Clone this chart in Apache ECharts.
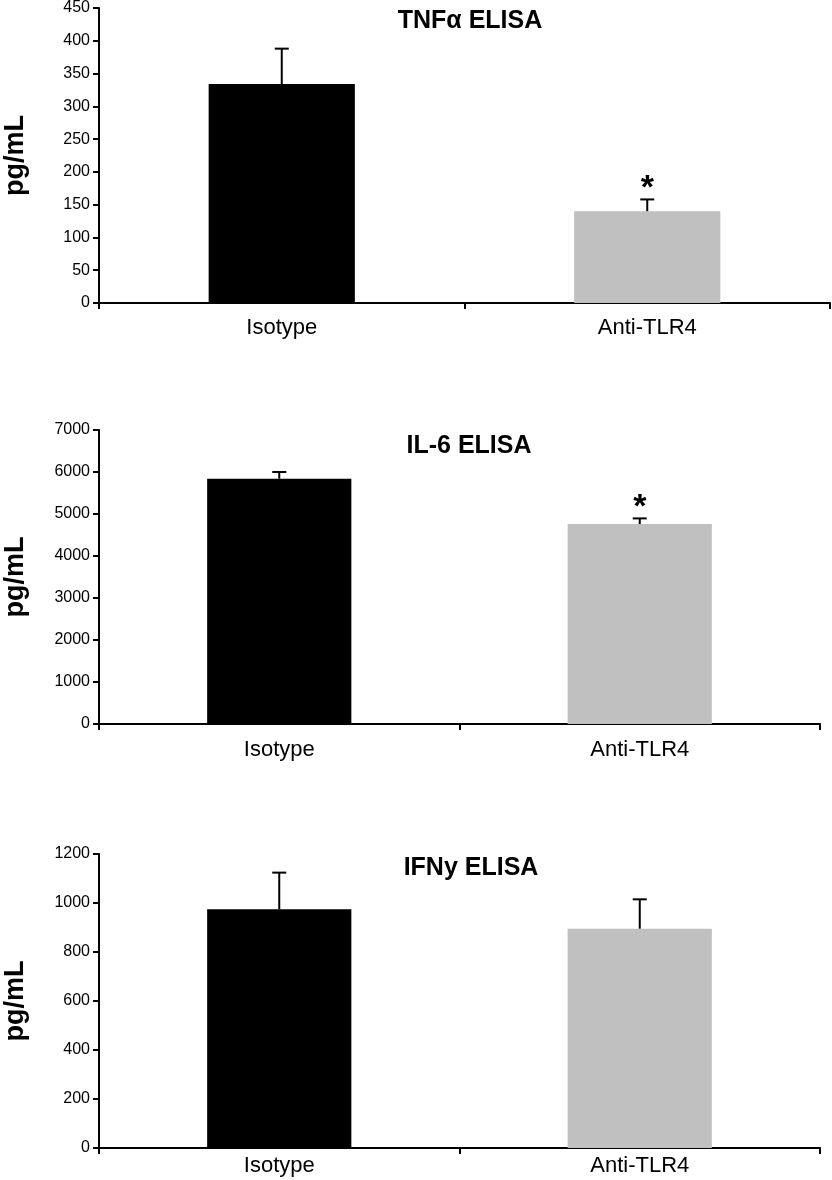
<!DOCTYPE html>
<html>
<head>
<meta charset="utf-8">
<script src="https://cdn.jsdelivr.net/npm/echarts@6/dist/echarts.min.js"></script>
<style>
html,body{margin:0;padding:0;background:#fff;}
#chart{width:832px;height:1180px;}
</style>
</head>
<body>
<div id="chart"></div>
<script>
// ---- data ----
const categories = ['Isotype', 'Anti-TLR4'];
const titles = ['TNF\u03b1 ELISA', 'IL-6 ELISA', 'IFNy ELISA'];
const yAxisName = 'pg/mL';
const barColors = ['#000000', '#c0c0c0'];

const tnfMean = [334, 140];
const tnfErr = [54, 18];
const tnfSig = [0, 1];

const il6Mean = [5840, 4760];
const il6Err = [160, 135];
const il6Sig = [0, 1];

const ifnMean = [974, 895];
const ifnErr = [150, 120];
const ifnSig = [0, 0];

const yMax = [450, 7000, 1200];
const yInterval = [50, 1000, 200];

// ---- layout ----
const FONT = '"Liberation Sans", Arial, Helvetica, sans-serif';
const grids = [
  {left: 99, top: 8, width: 731, height: 295},
  {left: 99, top: 430, width: 721, height: 294},
  {left: 99, top: 854, width: 721, height: 294}
];
const labelMargins = [14, 15, 7];
const titlePos = [{left: 465, top: 4}, {left: 464, top: 429}, {left: 466, top: 851}];

const panels = [
  {mean: tnfMean, err: tnfErr, sig: tnfSig},
  {mean: il6Mean, err: il6Err, sig: il6Sig},
  {mean: ifnMean, err: ifnErr, sig: ifnSig}
];

const chart = echarts.init(document.getElementById('chart'), null, {renderer: 'canvas'});

const option = {
  backgroundColor: '#fff',
  animation: false,
  title: titles.map((t, i) => ({
    text: t,
    left: titlePos[i].left,
    top: titlePos[i].top,
    textAlign: 'center',
    textStyle: {fontFamily: FONT, fontWeight: 'bold', fontSize: 25, color: '#000'}
  })),
  grid: grids.map(g => Object.assign({containLabel: false, outerBoundsMode: 'none'}, g)),
  xAxis: grids.map((g, i) => ({
    type: 'category',
    gridIndex: i,
    data: categories,
    boundaryGap: true,
    axisLine: {show: true, lineStyle: {color: '#000', width: 2}},
    axisTick: {show: true, length: 6, lineStyle: {color: '#000', width: 2}},
    axisLabel: {fontFamily: FONT, fontSize: 22, color: '#000', margin: labelMargins[i]},
    splitLine: {show: false}
  })),
  yAxis: grids.map((g, i) => ({
    type: 'value',
    gridIndex: i,
    min: 0,
    max: yMax[i],
    interval: yInterval[i],
    name: yAxisName,
    nameLocation: 'middle',
    nameGap: 70,
    nameTextStyle: {fontFamily: FONT, fontWeight: 'bold', fontSize: 27, color: '#000'},
    axisLine: {show: true, lineStyle: {color: '#000', width: 2}},
    axisTick: {show: true, length: 6, lineStyle: {color: '#000', width: 2}},
    axisLabel: {fontFamily: FONT, fontSize: 16, color: '#000', margin: 9,
                formatter: v => String(v)},
    splitLine: {show: false}
  })),
  series: []
};

panels.forEach((p, i) => {
  option.series.push({
    type: 'bar',
    xAxisIndex: i,
    yAxisIndex: i,
    barWidth: '40%',
    data: p.mean.map((v, k) => ({value: v, itemStyle: {color: barColors[k]}})),
    emphasis: {disabled: true}
  });
  option.series.push({
    type: 'custom',
    xAxisIndex: i,
    yAxisIndex: i,
    z: 5,
    data: p.mean.map((v, k) => [k, v, p.err[k], p.sig[k]]),
    renderItem: function (params, api) {
      const idx = api.value(0);
      const mean = api.value(1);
      const e = api.value(2);
      const s = api.value(3);
      const base = api.coord([idx, mean]);
      const top = api.coord([idx, mean + e]);
      const half = 7;
      const children = [
        {type: 'line', shape: {x1: top[0], y1: base[1], x2: top[0], y2: top[1]},
         style: {stroke: '#000', lineWidth: 2}},
        {type: 'line', shape: {x1: top[0] - half, y1: top[1], x2: top[0] + half, y2: top[1]},
         style: {stroke: '#000', lineWidth: 2}}
      ];
      if (s) {
        children.push({type: 'text', x: top[0], y: top[1] - 11,
          style: {text: '*', fontFamily: FONT, fontWeight: 'bold', fontSize: 34,
                  fill: '#000', align: 'center', verticalAlign: 'middle'}});
      }
      return {type: 'group', children: children};
    }
  });
});

chart.setOption(option);
</script>
</body>
</html>
